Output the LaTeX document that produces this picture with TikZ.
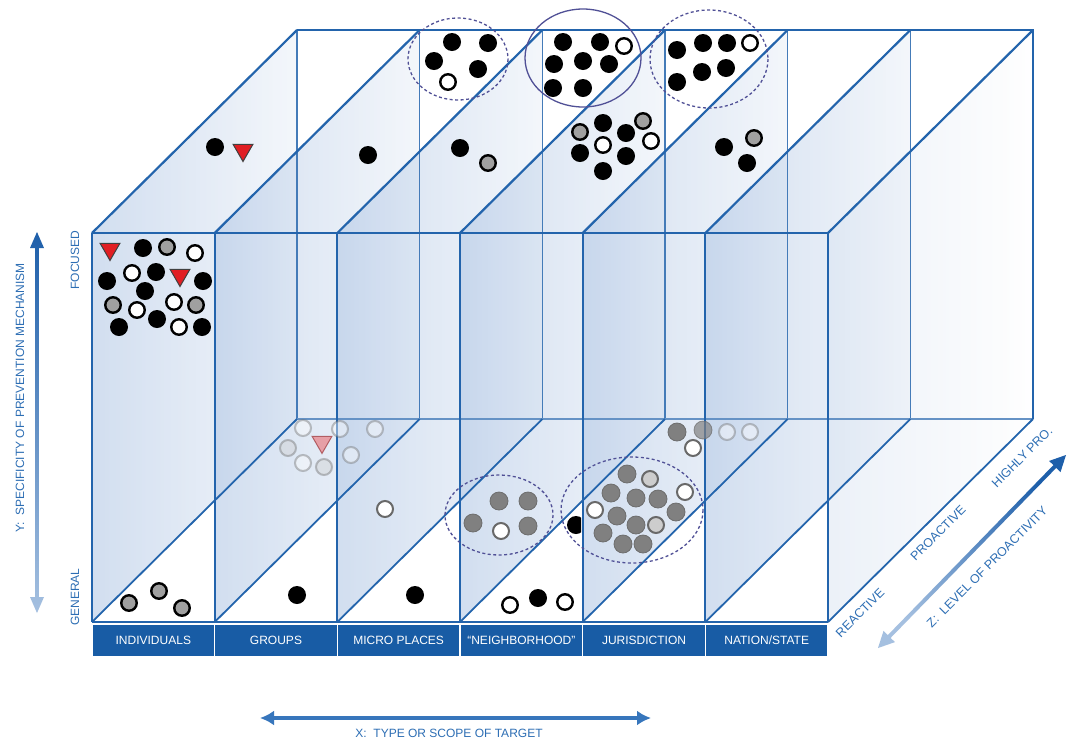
\documentclass[tikz,border=0pt]{standalone}
\usepackage{fontspec}
\setmainfont{Liberation Sans}
\usetikzlibrary{shapes.geometric,arrows.meta}
\definecolor{lineblue}{RGB}{35,100,172}
\definecolor{barblue}{RGB}{24,92,165}
\definecolor{txtblue}{RGB}{45,110,180}
\definecolor{wallc}{RGB}{180,201,230}
\definecolor{darkarrow}{RGB}{30,95,170}
\definecolor{lightarrow}{RGB}{165,192,224}
\definecolor{xarrow}{RGB}{55,118,188}
\definecolor{ellc}{RGB}{80,80,150}
\definecolor{midgray}{RGB}{128,128,128}
\definecolor{dotgray}{RGB}{160,160,160}
\definecolor{ringgray}{RGB}{105,105,105}
\definecolor{lightfill}{RGB}{205,205,205}
\definecolor{trired}{RGB}{225,30,35}
\begin{document}
\begin{tikzpicture}[x=1pt,y=-1pt,
  frontline/.style={draw=lineblue,line width=2.2pt},
  backline/.style={draw=lineblue!85,line width=1.4pt},
  floorline/.style={draw=lineblue,line width=1.8pt},
  bdot/.style={circle,fill=black,minimum size=18pt,inner sep=0pt},
  wdot/.style={circle,fill=white,draw=black,line width=2.4pt,minimum size=15.5pt,inner sep=0pt},
  gdot/.style={circle,fill=dotgray,draw=black,line width=2.4pt,minimum size=15.5pt,inner sep=0pt},
  mdot/.style={circle,fill=midgray,draw=midgray!85!black,line width=0.8pt,minimum size=18pt,inner sep=0pt},
  lgdot/.style={circle,fill=lightfill,draw=ringgray,line width=2pt,minimum size=16pt,inner sep=0pt},
  wgdot/.style={circle,fill=white,draw=ringgray,line width=2pt,minimum size=16pt,inner sep=0pt},
  tri/.style={regular polygon,regular polygon sides=3,shape border rotate=180,fill=trired,draw=black!75,line width=1pt,minimum size=23pt,inner sep=0pt},
  faded/.style={opacity=0.4},
  dellipse/.style={draw=ellc,line width=1.3pt,dash pattern=on 3pt off 2.5pt},
  sellipse/.style={draw=ellc,line width=1.3pt},
  barbox/.style={fill=barblue,draw=none},
  barlabel/.style={text=white,font=\fontsize{12}{14}\selectfont,inner sep=0pt},
  axlabel/.style={text=txtblue,font=\fontsize{12}{14}\selectfont,inner sep=0pt},
  zlabel/.style={text=txtblue,font=\fontsize{12.5}{14}\selectfont,inner sep=0pt,rotate=45}
]
\useasboundingbox (0,0) rectangle (1068,740);
\fill[white] (0,0) rectangle (1068,740);

% glass walls
\foreach \i in {0,...,5}{
  \pgfmathsetmacro\xa{92+122.6667*\i}
  \shade[left color=wallc, right color=wallc!25!white, fill opacity=0.6]
    (\xa,233) -- (\xa+205,30) -- (\xa+205,419) -- (\xa,622) -- cycle;
}
\shade[left color=wallc!50!white, right color=white, fill opacity=0.5]
    (828,233) -- (1033,30) -- (1033,419) -- (828,622) -- cycle;

% back lines
\foreach \i in {0,...,5}{
  \pgfmathsetmacro\xb{297+122.6667*\i}
  \draw[backline] (\xb,30) -- (\xb,419);
}
\draw[draw=lineblue!70,line width=1.2pt] (297,419) -- (1033,419);
% floor diagonals
\foreach \i in {0,...,6}{
  \pgfmathsetmacro\xa{92+122.6667*\i}
  \draw[floorline] (\xa,622) -- (\xa+205,419);
}
% top diagonals and front verticals
\foreach \i in {0,...,6}{
  \pgfmathsetmacro\xa{92+122.6667*\i}
  \draw[frontline] (\xa,233) -- (\xa+205,30);
  \draw[frontline] (\xa,233) -- (\xa,622);
}
\draw[frontline] (92,233) -- (828,233);
\draw[frontline] (297,30) -- (1033,30) -- (1033,419);
\draw[frontline] (92,622) -- (828,622);

% faded dots (behind glass)
\foreach \x/\y [count=\i] in {303/428,303/463,340/429,375/429,351/455,727/432,750/432}
  \node[wgdot,faded] (fw\i) at (\x,\y) {};
\foreach \x/\y [count=\i] in {288/448,324/467}
  \node[lgdot,faded] (fl\i) at (\x,\y) {};
\node[tri,opacity=0.55,fill=trired!70,draw=trired!60!black] (ft1) at (322,442) {};
\node[mdot,opacity=0.7] (fm1) at (703,430) {};

% black dots
\foreach \x/\y [count=\i] in {215/147,368/155,460/148,
  452/42,488/43,434/61,478/69,
  563/42,600/42,554/64,583/61,609/64,553/88,583/88,
  677/50,703/43,727/43,702/72,726/68,677/82,
  603/123,626/133,580/153,626/156,603/171,
  724/147,747/163,
  143/248,107/281,156/272,203/281,145/291,119/327,157/319,202/327,
  297/595,415/595,538/598}
  \node[bdot] (b\i) at (\x,\y) {};
% white dots
\foreach \x/\y [count=\i] in {448/82,624/46,750/43,603/145,651/141,
  195/253,132/273,137/310,174/302,179/327,510/605,565/602}
  \node[wdot] (w\i) at (\x,\y) {};
% gray dots
\foreach \x/\y [count=\i] in {488/163,580/132,643/121,754/138,
  167/247,113/305,196/305,129/603,159/591,182/608}
  \node[gdot] (g\i) at (\x,\y) {};
% red triangles
\foreach \x/\y [count=\i] in {243/150,110/249,180/275}
  \node[tri] (t\i) at (\x,\y) {};
% medium gray dots
\foreach \x/\y [count=\i] in {499/501,528/501,473/523,528/526,
  627/474,611/493,636/498,658/499,617/516,636/525,676/512,603/533,623/544,643/544,677/432}
  \node[mdot] (m\i) at (\x,\y) {};
\foreach \x/\y [count=\i] in {650/479,656/525}
  \node[lgdot] (l\i) at (\x,\y) {};
\foreach \x/\y [count=\i] in {501/531,685/492,595/510,693/448,385/509}
  \node[wgdot] (r\i) at (\x,\y) {};
\begin{scope}
  \clip (560,505) rectangle (581,545);
  \node[bdot] (bh) at (576,525) {};
\end{scope}

% ellipses
\draw[dellipse] (458,59) ellipse [x radius=50, y radius=41];
\draw[sellipse] (583,58) ellipse [x radius=58, y radius=49];
\draw[dellipse] (709,59) ellipse [x radius=59, y radius=49];
\draw[dellipse] (499,515) ellipse [x radius=54, y radius=40];
\draw[dellipse] (632,510) ellipse [x radius=71, y radius=53];

% label bar
\foreach \i/\t in {0/{INDIVIDUALS},1/{GROUPS},2/{MICRO PLACES},3/{“NEIGHBORHOOD”},4/{JURISDICTION},5/{NATION/STATE}}{
  \pgfmathsetmacro\xa{92+122.6667*\i}
  \fill[barbox] (\xa+0.8,625) rectangle (\xa+121.9,656);
  \node[barlabel] (bar\i) at (\xa+61.33,640.5) {\t};
}

% Y axis
\coordinate (ytop) at (37,232);
\coordinate (ybot) at (37,613);
\shade[top color=darkarrow, bottom color=lightarrow]
  (ytop) -- (44,248) -- (38.8,248) -- (38.8,597) -- (44,597) -- (ybot)
  -- (30,597) -- (35.2,597) -- (35.2,248) -- (30,248) -- cycle;
\node[axlabel,rotate=90] (ylab) at (20,398) {Y:\ \ SPECIFICITY OF PREVENTION MECHANISM};
\node[axlabel,rotate=90] (focused) at (75,260) {FOCUSED};
\node[axlabel,rotate=90] (general) at (75,597) {GENERAL};

% X axis
\coordinate (xl) at (260,718);
\coordinate (xr) at (651,718);
\draw[draw=xarrow,line width=3.5pt,{Latex[length=14pt,width=15pt]}-{Latex[length=14pt,width=15pt]}] (xl) -- (xr);
\node[axlabel] (xlab) at (449,733) {X:\ \ TYPE OR SCOPE OF TARGET};

% Z axis
\coordinate (zl) at (878,648);
\coordinate (zr) at (1066,455);
\shade[top color=darkarrow, bottom color=lightarrow, shading angle=-45]
  (zl) -- (894.9,642.1) -- (890.6,637.9) -- (1056.2,467.9) -- (1060.5,472.1) -- (zr)
  -- (1049.1,460.9) -- (1053.4,465.1) -- (887.8,635.1) -- (883.5,630.9) -- cycle;
\node[zlabel] (reactive) at (860,613) {REACTIVE};
\node[zlabel] (proactive) at (938,533) {PROACTIVE};
\node[zlabel] (highly) at (1022,457) {HIGHLY PRO.};
\node[zlabel] (zlab) at (987,567) {Z:\ \ LEVEL OF PROACTIVITY};
\end{tikzpicture}
\end{document}
